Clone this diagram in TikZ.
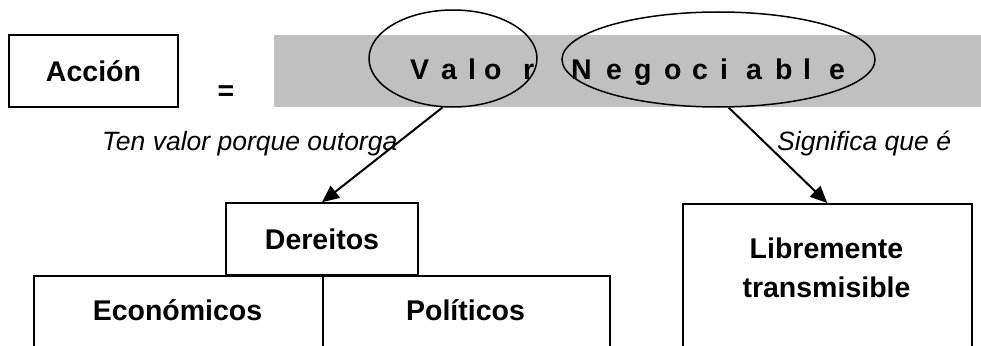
\documentclass[tikz,border=0pt]{standalone}
\usepackage{fontspec}
\setmainfont{Liberation Sans}
\usetikzlibrary{arrows.meta,shapes.geometric}
\definecolor{band}{HTML}{C0C0C0}
\begin{document}
\begin{tikzpicture}[x=1pt,y=-1pt,
  txt/.style={font=\fontsize{28.5}{32}\selectfont\bfseries, inner sep=0pt},
  itx/.style={font=\fontsize{26.5}{30}\selectfont\itshape, inner sep=0pt, anchor=base west},
  box/.style={draw, line width=1.5pt, inner sep=0pt},
  openbox/.style={box, anchor=north west, minimum height=160pt},
  oval/.style={draw, ellipse, line width=1.5pt, inner sep=0pt},
  arr/.style={line width=2pt, -{Triangle[length=17pt,width=15pt]}}]
\clip (0,0) rectangle (981,345);
\fill[white] (0,0) rectangle (981,345);
% top row
\node[box, txt, minimum width=169pt, minimum height=72pt] (accion) at (93.5,71) {Acción};
\node[txt, anchor=base] (eq) at (226,100) {=};
\node[fill=band, inner sep=0pt, minimum width=707pt, minimum height=72pt] (bandnode) at (627.5,71) {};
\foreach \x/\l [count=\i] in {410/V,441/a,468/l,484/o,523/r,571/N,606/e,634/g,664/o,692/c,720/i,746/a,775/b,803/l,829/e}
  \node[txt, anchor=base west] (L\i) at (\x,79) {\l};
\node[oval, minimum width=168pt, minimum height=97pt] (valor) at (453,58.5) {};
\node[oval, minimum width=313pt, minimum height=95pt] (negoc) at (718.5,59.5) {};
% labels
\node[itx] (lab1) at (102,150) {Ten valor porque outorga};
\node[itx] (lab2) at (777,150) {Significa que é};
% boxes
\node[box, txt, minimum width=192pt, minimum height=72pt] (der) at (322,239) {Dereitos};
\node[openbox, minimum width=289pt] (ecobox) at (33,275) {};
\node[openbox, minimum width=287pt] (polbox) at (322,275) {};
\node[openbox, minimum width=289pt] (libbox) at (682,203) {};
\node[txt, anchor=base] (eco) at (177.5,320) {Económicos};
\node[txt, anchor=base] (pol) at (465.5,320) {Políticos};
\node[txt, anchor=base] (lib1) at (826.5,258) {Libremente};
\node[txt, anchor=base] (lib2) at (826.5,297) {transmisible};
% arrows
\draw[arr] (valor.258) -- (der.north);
\draw[arr] (negoc.-78.7) -- (libbox.north);
\end{tikzpicture}
\end{document}
